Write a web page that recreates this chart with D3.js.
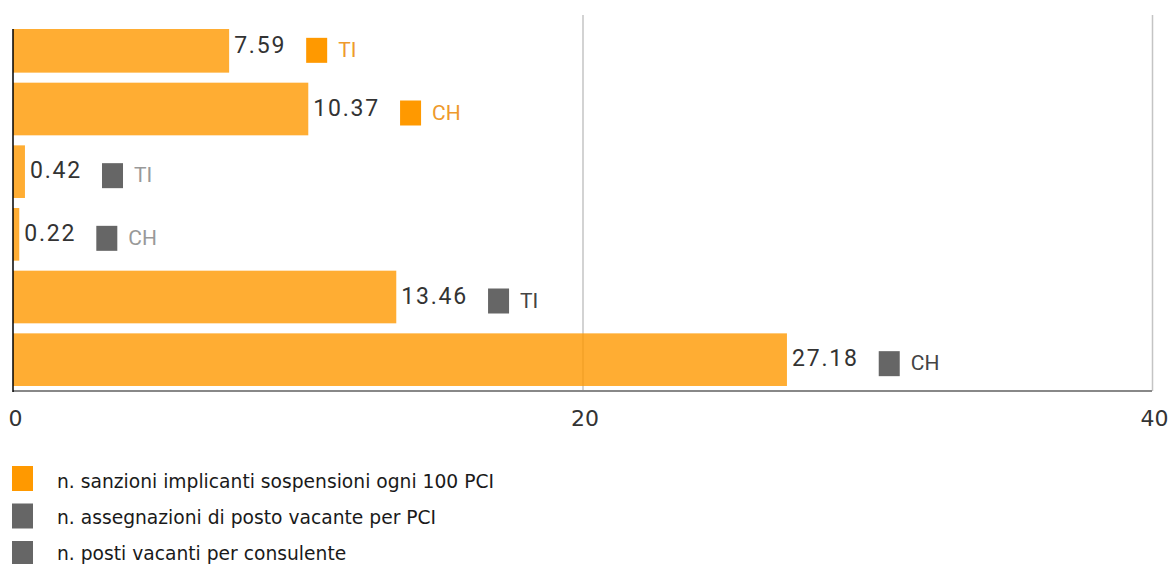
<!DOCTYPE html>
<html>
<head>
<meta charset="utf-8">
<script src="https://cdn.jsdelivr.net/npm/d3@7"></script>
<style>
  html, body { margin: 0; padding: 0; background: #fff; }
  svg { display: block; }
</style>
</head>
<body>
<svg id="chart" width="1169" height="564"></svg>
<script>
// ---- data ----
const categories = ["TI", "CH", "TI", "CH", "TI", "CH"];
const values = [7.59, 10.37, 0.42, 0.22, 13.46, 27.18];
const seriesOfRow = [0, 0, 1, 1, 2, 2];
const seriesNames = [
  "n. sanzioni implicanti sospensioni ogni 100 PCI",
  "n. assegnazioni di posto vacante per PCI",
  "n. posti vacanti per consulente"
];
const seriesColors = ["#FF9900", "#666666", "#666666"];
const seriesLabelColors = ["#EE9A2C", "#999999", "#444444"];
const xTicks = [0, 20, 40];
const xDomain = [0, 40];

(function () {
// ---- layout ----
const svg = d3.select("#chart");
const mLeft = 13, mRight = 1152, mTop = 15, mBottom = 391, clipTop = 29;

const x = d3.scaleLinear().domain(xDomain).range([mLeft, mRight]);
const y = d3.scaleBand().domain(d3.range(values.length)).range([mTop, mBottom])
  .paddingInner(0.16).paddingOuter(0.08);

svg.append("defs").append("clipPath").attr("id", "plotclip")
  .append("rect").attr("x", 0).attr("y", clipTop).attr("width", 1169).attr("height", mBottom - clipTop);

// gridlines (beneath bars)
const axis = d3.axisBottom(x).tickValues(xTicks).tickSize(-(mBottom - mTop)).tickFormat(d3.format("d"));
const gx = svg.append("g").attr("transform", `translate(0,${mBottom})`).call(axis);
gx.select(".domain").remove();
gx.selectAll(".tick line").attr("stroke", "#c4c4c4").attr("stroke-width", 1.5)
  .attr("opacity", d => d === 0 ? 0 : 1);
gx.selectAll(".tick text")
  .attr("y", 35).attr("dy", 0).attr("dx", 2)
  .attr("fill", "#333")
  .style("font-family", "'DejaVu Sans', Verdana, sans-serif")
  .style("font-size", "22px");

// bars
const plot = svg.append("g").attr("clip-path", "url(#plotclip)");
plot.selectAll("rect.bar").data(values).join("rect")
  .attr("class", "bar")
  .attr("x", x(0))
  .attr("y", (d, i) => y(i))
  .attr("width", d => x(d) - x(0))
  .attr("height", y.bandwidth())
  .attr("fill", "#FF9900")
  .attr("fill-opacity", 0.8);

// axes lines
svg.append("line").attr("x1", mLeft).attr("x2", mRight).attr("y1", mBottom).attr("y2", mBottom)
  .attr("stroke", "#888").attr("stroke-width", 2);
svg.append("line").attr("x1", mLeft).attr("x2", mLeft).attr("y1", clipTop).attr("y2", mBottom + 1)
  .attr("stroke", "#000").attr("stroke-width", 1.5);

// value labels and category markers
values.forEach((v, i) => {
  const cy = y(i) + y.bandwidth() / 2;
  const t = svg.append("text")
    .attr("x", x(v) + 5)
    .attr("y", cy + 6.5)
    .attr("fill", "#333")
    .style("font-family", "Roboto, sans-serif")
    .style("font-size", "23px")
    .style("letter-spacing", "1.8px")
    .text(v.toFixed(2));
  const w = t.node().getBBox().width;
  const sx = x(v) + 5 + w + 20;
  const s = seriesOfRow[i];
  svg.append("rect")
    .attr("x", sx).attr("y", cy - 8.5)
    .attr("width", 21).attr("height", 25)
    .attr("fill", seriesColors[s]);
  svg.append("text")
    .attr("x", sx + 32).attr("y", cy + 10.5)
    .attr("fill", seriesLabelColors[s])
    .style("font-family", "Roboto, sans-serif")
    .style("font-size", "21px")
    .text(categories[i]);
});

// legend
const legend = svg.append("g");
seriesNames.forEach((name, k) => {
  legend.append("rect").attr("x", 12).attr("y", 466 + k * 37.5)
    .attr("width", 21).attr("height", 25).attr("fill", seriesColors[k]);
  legend.append("text").attr("x", 57).attr("y", 488 + k * 36)
    .attr("fill", "#1a1a1a")
    .style("font-family", "'DejaVu Sans', Verdana, sans-serif")
    .style("font-size", "18.7px")
    .text(name);
});
})();
</script>
</body>
</html>
